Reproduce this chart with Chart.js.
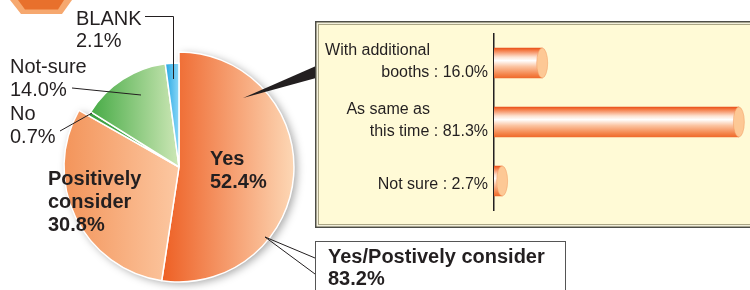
<!DOCTYPE html>
<html>
<head>
<meta charset="utf-8">
<script src="https://cdn.jsdelivr.net/npm/chart.js@4.4.0/dist/chart.umd.min.js"></script>
<style>
  html, body { margin: 0; padding: 0; background: #fff; }
  #wrap { position: relative; width: 750px; height: 290px; overflow: hidden; }
  #pie-chart { position: absolute; left: 0; top: 0; }
  #bar-chart { position: absolute; left: 315px; top: 21px; }
</style>
</head>
<body>
<div id="wrap">
  <canvas id="pie-chart" width="750" height="290"></canvas>
  <canvas id="bar-chart" width="435" height="208"></canvas>
</div>
<script>
// pie data (clockwise from 12 o'clock)
const pieLabels = ["Yes", "Positively consider", "No", "Not-sure", "BLANK"];
const pieValues = [52.4, 30.8, 0.7, 14.0, 2.1];
const combinedLabel = "Yes/Postively consider";
const combinedValue = 83.2;

// bar data
const barCategories = [["With additional", "booths"], ["As same as", "this time"], ["Not sure"]];
const barValues = [16.0, 81.3, 2.7];

const textColor = "#231f20";
const FONT = "'Liberation Sans', Arial, Helvetica, sans-serif";

// colour ramps for the slices: [left colour, right colour, gradient start/end offset from centre]
const sliceShades = [
  ["#ee6126", "#fdd8b6", -15, 116],
  ["#f3945a", "#fcc8a2", -116, 0],
  ["#3a9f40", "#5cb85a", -90, 0],
  ["#47ab46", "#cde7b6", -88, 0],
  ["#149fe0", "#8bd7f7", -16, 0]
];
// the small slices sit a bit inside the main circle
const sliceRadius = [1, 1, 0.905, 0.905, 0.905];

function sliceFill(ctx) {
  const area = ctx.chart.chartArea;
  const s = sliceShades[ctx.dataIndex];
  if (!area) return s[0];
  const cx = (area.left + area.right) / 2;
  const g = ctx.chart.ctx.createLinearGradient(cx + s[2], 0, cx + s[3], 0);
  g.addColorStop(0, s[0]);
  g.addColorStop(1, s[1]);
  return g;
}

const shrinkSlices = {
  id: "shrinkSlices",
  afterDatasetsUpdate(chart) {
    chart.getDatasetMeta(0).data.forEach((arc, i) => {
      arc.outerRadius = arc.outerRadius * sliceRadius[i];
    });
  }
};

const pieShadow = {
  id: "pieShadow",
  beforeDatasetsDraw(chart) {
    const arcs = chart.getDatasetMeta(0).data;
    const a = arcs[0];
    const ctx = chart.ctx;
    ctx.save();
    ctx.shadowColor = "rgba(0,0,0,0.35)";
    ctx.shadowBlur = 9;
    ctx.shadowOffsetX = 3;
    ctx.shadowOffsetY = 2;
    ctx.fillStyle = "#fff";
    ctx.beginPath();
    ctx.moveTo(a.x, a.y);
    ctx.arc(a.x, a.y, a.outerRadius, a.startAngle, arcs[1].endAngle);
    ctx.closePath();
    ctx.fill();
    ctx.restore();
  }
};

function lines(ctx, x, y, rows, gap) {
  rows.forEach((r, i) => ctx.fillText(r, x, y + i * gap));
}

const pieNotes = {
  id: "pieNotes",
  afterDraw(chart) {
    const ctx = chart.ctx;
    const pct = v => v.toFixed(1) + "%";
    ctx.save();

    // corner badge
    ctx.fillStyle = "#f6a86f";
    ctx.beginPath();
    ctx.moveTo(10, 0); ctx.lineTo(21, 14); ctx.lineTo(62, 14); ctx.lineTo(72, 0);
    ctx.closePath(); ctx.fill();
    ctx.fillStyle = "#e8702c";
    ctx.beginPath();
    ctx.moveTo(18, 0); ctx.lineTo(25, 9.5); ctx.lineTo(58, 9.5); ctx.lineTo(64, 0);
    ctx.closePath(); ctx.fill();

    ctx.fillStyle = textColor;
    ctx.strokeStyle = textColor;
    ctx.lineWidth = 1;
    ctx.textAlign = "left";
    ctx.textBaseline = "alphabetic";

    ctx.font = "20px " + FONT;
    lines(ctx, 76, 25, [pieLabels[4], pct(pieValues[4])], 22);
    lines(ctx, 10, 73, [pieLabels[3], pct(pieValues[3])], 23);
    lines(ctx, 10, 120, [pieLabels[2], pct(pieValues[2])], 23);

    ctx.font = "bold 20px " + FONT;
    lines(ctx, 48, 185, ["Positively", "consider", pct(pieValues[1])], 23);
    lines(ctx, 210, 165, [pieLabels[0], pct(pieValues[0])], 23);

    // leader lines
    ctx.beginPath();
    ctx.moveTo(145, 16.5); ctx.lineTo(173.5, 16.5); ctx.lineTo(173.5, 79);
    ctx.moveTo(72, 88); ctx.lineTo(141, 95);
    ctx.moveTo(60, 131); ctx.lineTo(92, 113);
    ctx.moveTo(265, 237); ctx.lineTo(315, 258);
    ctx.moveTo(265, 237); ctx.lineTo(315, 274);
    ctx.stroke();

    // wedge pointing to the bar box
    ctx.beginPath();
    ctx.moveTo(243, 98); ctx.lineTo(316, 66); ctx.lineTo(316, 78);
    ctx.closePath(); ctx.fill();

    // combined total box
    ctx.fillStyle = "#fff";
    ctx.fillRect(315.5, 241.5, 250, 60);
    ctx.strokeStyle = "#555";
    ctx.strokeRect(315.5, 241.5, 250, 60);
    ctx.fillStyle = textColor;
    ctx.font = "bold 20px " + FONT;
    lines(ctx, 328, 263, [combinedLabel, pct(combinedValue)], 22);
    ctx.restore();
  }
};

new Chart(document.getElementById("pie-chart"), {
  type: "pie",
  data: {
    labels: pieLabels,
    datasets: [{
      data: pieValues,
      backgroundColor: sliceFill,
      borderColor: "#fff",
      borderWidth: 1.5
    }]
  },
  options: {
    responsive: false,
    animation: false,
    radius: 115,
    layout: { padding: { left: 0, right: 392, top: 44, bottom: 0 } },
    plugins: { legend: { display: false }, tooltip: { enabled: false } }
  },
  plugins: [shrinkSlices, pieShadow, pieNotes]
});

// ---- bar chart ----
function barFill(ctx) {
  const y = ctx.chart.scales.y;
  const cy = y ? y.getPixelForValue(ctx.dataIndex) : NaN;
  if (!isFinite(cy)) return "#f37a3a";
  const g = ctx.chart.ctx.createLinearGradient(0, cy - 15, 0, cy + 15);
  g.addColorStop(0, "#e9501a");
  g.addColorStop(0.08, "#f47a45");
  g.addColorStop(0.3, "#fde3d2");
  g.addColorStop(0.42, "#ffffff");
  g.addColorStop(0.62, "#fbc3a0");
  g.addColorStop(0.88, "#f4844a");
  g.addColorStop(1, "#ef6a2c");
  return g;
}

const boxBack = {
  id: "boxBack",
  beforeDraw(chart) {
    const ctx = chart.ctx;
    const w = chart.width, h = chart.height;
    ctx.save();
    ctx.fillStyle = "#fffad6";
    ctx.fillRect(0, 0, w, h - 1);
    ctx.strokeStyle = "#4d4d48";
    ctx.lineWidth = 1.5;
    ctx.strokeRect(0.75, 0.75, w + 20, h - 2.5);
    ctx.strokeStyle = "#f2efdc";
    ctx.lineWidth = 1;
    ctx.strokeRect(2.5, 2.5, w + 20, h - 6);
    ctx.strokeStyle = "#aaa585";
    ctx.strokeRect(3.5, 3.5, w + 20, h - 8);
    ctx.restore();
  }
};

const barCaps = {
  id: "barCaps",
  afterDatasetsDraw(chart) {
    const ctx = chart.ctx;
    ctx.save();
    chart.getDatasetMeta(0).data.forEach(el => {
      ctx.beginPath();
      ctx.ellipse(el.x, el.y, 5.5, el.height / 2, 0, 0, Math.PI * 2);
      ctx.fillStyle = "#fdc895";
      ctx.fill();
      ctx.strokeStyle = "rgba(240,150,90,0.6)";
      ctx.lineWidth = 0.8;
      ctx.stroke();
    });
    ctx.restore();
  }
};

const barLabels = {
  id: "barLabels",
  afterDraw(chart) {
    const ctx = chart.ctx;
    const y = chart.scales.y;
    const ax = chart.chartArea.left;
    ctx.save();
    ctx.fillStyle = textColor;
    ctx.font = "16px " + FONT;
    ctx.textAlign = "right";
    barCategories.forEach((cat, i) => {
      const cy = y.getPixelForValue(i);
      const last = cat[cat.length - 1] + " : " + barValues[i].toFixed(1) + "%";
      if (cat.length > 1) {
        ctx.fillText(cat[0], ax - 64, cy - 8);
        ctx.fillText(last, ax - 6, cy + 13.5);
      } else {
        ctx.fillText(last, ax - 6, cy + 8);
      }
    });
    ctx.restore();
  }
};

new Chart(document.getElementById("bar-chart"), {
  type: "bar",
  data: {
    labels: barCategories.map(c => c.join(" ")),
    datasets: [{
      data: barValues,
      backgroundColor: barFill,
      borderWidth: 0,
      barThickness: 30
    }]
  },
  options: {
    indexAxis: "y",
    responsive: false,
    animation: false,
    layout: { padding: { left: 179, right: 0, top: 12.5, bottom: 18.5 } },
    scales: {
      x: { display: false, min: 0, max: 85 },
      y: {
        grid: { display: false, drawTicks: false },
        ticks: { display: false },
        border: { color: textColor, width: 1.5 }
      }
    },
    plugins: { legend: { display: false }, tooltip: { enabled: false } }
  },
  plugins: [boxBack, barCaps, barLabels]
});
</script>
</body>
</html>
